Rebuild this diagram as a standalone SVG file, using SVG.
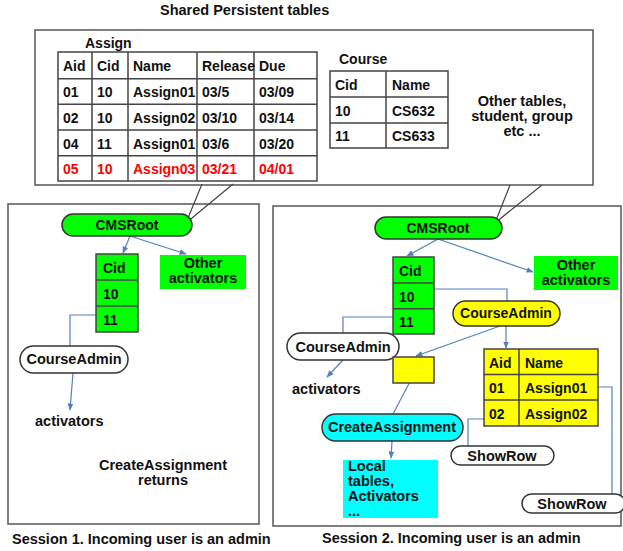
<svg xmlns="http://www.w3.org/2000/svg" width="623" height="551" viewBox="0 0 623 551">
<defs>
<style>
text{font-family:"Liberation Sans",Arial,sans-serif;font-weight:bold;font-size:14.5px;fill:#111}
.t text{font-size:14px}
.c{text-anchor:middle}
.red{fill:#ff0000}
.cell{fill:none;stroke:#444;stroke-width:1.5}
.frame{fill:#fff;stroke:#555;stroke-width:1.5}
.blue{fill:none;stroke:#4f81bd;stroke-width:1.2}
.gray{fill:none;stroke:#444;stroke-width:1.2}
.green{fill:#00ff00}
.yellow{fill:#ffff00}
.cyan{fill:#00ffff}
.pill{stroke:#333;stroke-width:1.5}
</style>
<marker id="ab" viewBox="0 0 10 10" refX="9" refY="5" markerWidth="6" markerHeight="6" orient="auto"><path d="M0,1 L10,5 L0,9 z" fill="#4f81bd"/></marker>
</defs>
<rect width="623" height="551" fill="#fff"/>

<g id="title"><text x="160" y="15">Shared Persistent tables</text></g>

<g id="shared-box">
<rect x="35" y="30" width="558" height="155" class="frame"/>
</g>

<g id="assign-table" class="t">
<text x="85" y="48">Assign</text>
<rect x="58" y="52" width="259" height="129" class="cell"/>
<path class="cell" d="M58,78.7H317M58,104.3H317M58,130H317M58,155.7H317M92,52V181M128,52V181M197,52V181M254,52V181"/>
<text x="63" y="71">Aid</text><text x="97" y="71">Cid</text><text x="133" y="71">Name</text><text x="202" y="71">Release</text><text x="259" y="71">Due</text>
<text x="63" y="97">01</text><text x="97" y="97">10</text><text x="133" y="97">Assign01</text><text x="202" y="97">03/5</text><text x="259" y="97">03/09</text>
<text x="63" y="123">02</text><text x="97" y="123">10</text><text x="133" y="123">Assign02</text><text x="202" y="123">03/10</text><text x="259" y="123">03/14</text>
<text x="63" y="148.5">04</text><text x="97" y="148.5">11</text><text x="133" y="148.5">Assign01</text><text x="202" y="148.5">03/6</text><text x="259" y="148.5">03/20</text>
<text x="63" y="174" class="red">05</text><text x="97" y="174" class="red">10</text><text x="133" y="174" class="red">Assign03</text><text x="202" y="174" class="red">03/21</text><text x="259" y="174" class="red">04/01</text>
</g>

<g id="course-table" class="t">
<text x="339" y="64">Course</text>
<rect x="330" y="71" width="118" height="77" class="cell"/>
<path class="cell" d="M330,97H448M330,123H448M386,71V148"/>
<text x="335" y="90">Cid</text><text x="392" y="90">Name</text>
<text x="335" y="116">10</text><text x="392" y="116">CS632</text>
<text x="335" y="141">11</text><text x="392" y="141">CS633</text>
</g>

<g id="other-tables">
<text x="522" y="106" class="c">Other tables,</text>
<text x="522" y="121" class="c">student, group</text>
<text x="522" y="136" class="c">etc  ...</text>
</g>

<g id="session1-box"><rect x="8" y="204" width="251" height="320" class="frame"/></g>
<g id="session2-box"><rect x="273" y="206" width="348" height="320" class="frame"/></g>

<g id="connectors">
<path class="gray" d="M202,184L186,223M233,184L186,223"/>
<path class="gray" d="M510,185L495,223M542,185L495,223"/>
<path class="blue" d="M130,236L123,253" marker-end="url(#ab)"/>
<path class="blue" d="M130,236L186,254" marker-end="url(#ab)"/>
<path class="blue" d="M96,315H70V346"/>
<path class="blue" d="M73,373L70,410" marker-end="url(#ab)"/>
<path class="blue" d="M438,239L407,256" marker-end="url(#ab)"/>
<path class="blue" d="M438,239L533,272" marker-end="url(#ab)"/>
<path class="blue" d="M434,289H507V301"/>
<path class="blue" d="M393,317H343V333"/>
<path class="blue" d="M500,326L416,356" marker-end="url(#ab)"/>
<path class="blue" d="M506,326V348" marker-end="url(#ab)"/>
<path class="blue" d="M343,360L327,377" marker-end="url(#ab)"/>
<path class="blue" d="M413,376L393,414"/>
<path class="blue" d="M392,441L391,458" marker-end="url(#ab)"/>
<path class="blue" d="M484,419H468V446"/>
<path class="blue" d="M598,387H612V494"/>
</g>

<g id="s1-cmsroot" class="t"><rect x="62" y="214" width="130" height="22" rx="11" class="green pill"/><text x="127" y="230" class="c">CMSRoot</text></g>
<g id="s1-cid-table" class="t">
<rect x="96" y="254" width="42" height="78" class="green"/>
<rect x="96" y="254" width="42" height="78" class="cell"/>
<path class="cell" d="M96,280H138M96,306H138"/>
<text x="103" y="273">Cid</text><text x="103" y="299">10</text><text x="103" y="325">11</text>
</g>
<g id="s1-other-activators"><rect x="160" y="255" width="86" height="34" class="green"/><text x="203" y="268" class="c">Other</text><text x="203" y="283" class="c">activators</text></g>
<g id="s1-courseadmin"><rect x="20" y="346" width="108" height="27" rx="13.5" fill="#fff" class="pill"/><text x="74" y="364" class="c">CourseAdmin</text></g>
<g id="s1-activators"><text x="35" y="426">activators</text></g>
<g id="s1-createassignment-returns"><text x="163" y="470" class="c">CreateAssignment</text><text x="163" y="485" class="c">returns</text></g>
<g id="s1-caption"><text x="12" y="544">Session 1. Incoming user is an admin</text></g>

<g id="s2-cmsroot" class="t"><rect x="375" y="217" width="127" height="22" rx="11" class="green pill"/><text x="438" y="233" class="c">CMSRoot</text></g>
<g id="s2-cid-table" class="t">
<rect x="393" y="257" width="41" height="77" class="green"/>
<rect x="393" y="257" width="41" height="77" class="cell"/>
<path class="cell" d="M393,283H434M393,308.7H434"/>
<text x="399" y="276">Cid</text><text x="399" y="302">10</text><text x="399" y="327">11</text>
</g>
<g id="s2-other-activators"><rect x="534" y="256" width="84" height="34" class="green"/><text x="576" y="270" class="c">Other</text><text x="576" y="285" class="c">activators</text></g>
<g id="s2-courseadmin-yellow" class="t"><rect x="453" y="301" width="107" height="25" rx="12.5" class="yellow pill"/><text x="506" y="318" class="c">CourseAdmin</text></g>
<g id="s2-courseadmin-white"><rect x="287" y="333" width="112" height="27" rx="13.5" fill="#fff" class="pill"/><text x="343" y="352" class="c">CourseAdmin</text></g>
<g id="s2-activators"><text x="292" y="394">activators</text></g>
<g id="s2-small-box"><rect x="393" y="357" width="41" height="26" class="yellow" stroke="#444" stroke-width="1.5"/></g>
<g id="s2-assign-table" class="t">
<rect x="484" y="349" width="114" height="77" class="yellow"/>
<rect x="484" y="349" width="114" height="77" class="cell"/>
<path class="cell" d="M484,374.5H598M484,400H598M519,349V426"/>
<text x="489" y="368">Aid</text><text x="525" y="368">Name</text>
<text x="489" y="393">01</text><text x="525" y="393">Assign01</text>
<text x="489" y="419">02</text><text x="525" y="419">Assign02</text>
</g>
<g id="s2-createassignment"><rect x="322" y="414" width="141" height="27" rx="13.5" class="cyan pill"/><text x="392" y="432" class="c">CreateAssignment</text></g>
<g id="s2-local-tables">
<rect x="343" y="460" width="95" height="58" class="cyan"/>
<text x="348" y="471">Local</text><text x="348" y="486">tables,</text><text x="348" y="501">Activators</text><text x="348" y="516">...</text>
</g>
<g id="s2-showrow1"><rect x="451" y="446" width="103" height="19" rx="9.5" fill="#fff" class="pill"/><text x="502" y="461" class="c">ShowRow</text></g>
<g id="s2-showrow2"><rect x="522" y="494" width="103" height="19" rx="9.5" fill="#fff" class="pill"/><text x="572" y="509" class="c">ShowRow</text></g>
<g id="s2-caption"><text x="322" y="543">Session 2. Incoming user is an admin</text></g>
</svg>
